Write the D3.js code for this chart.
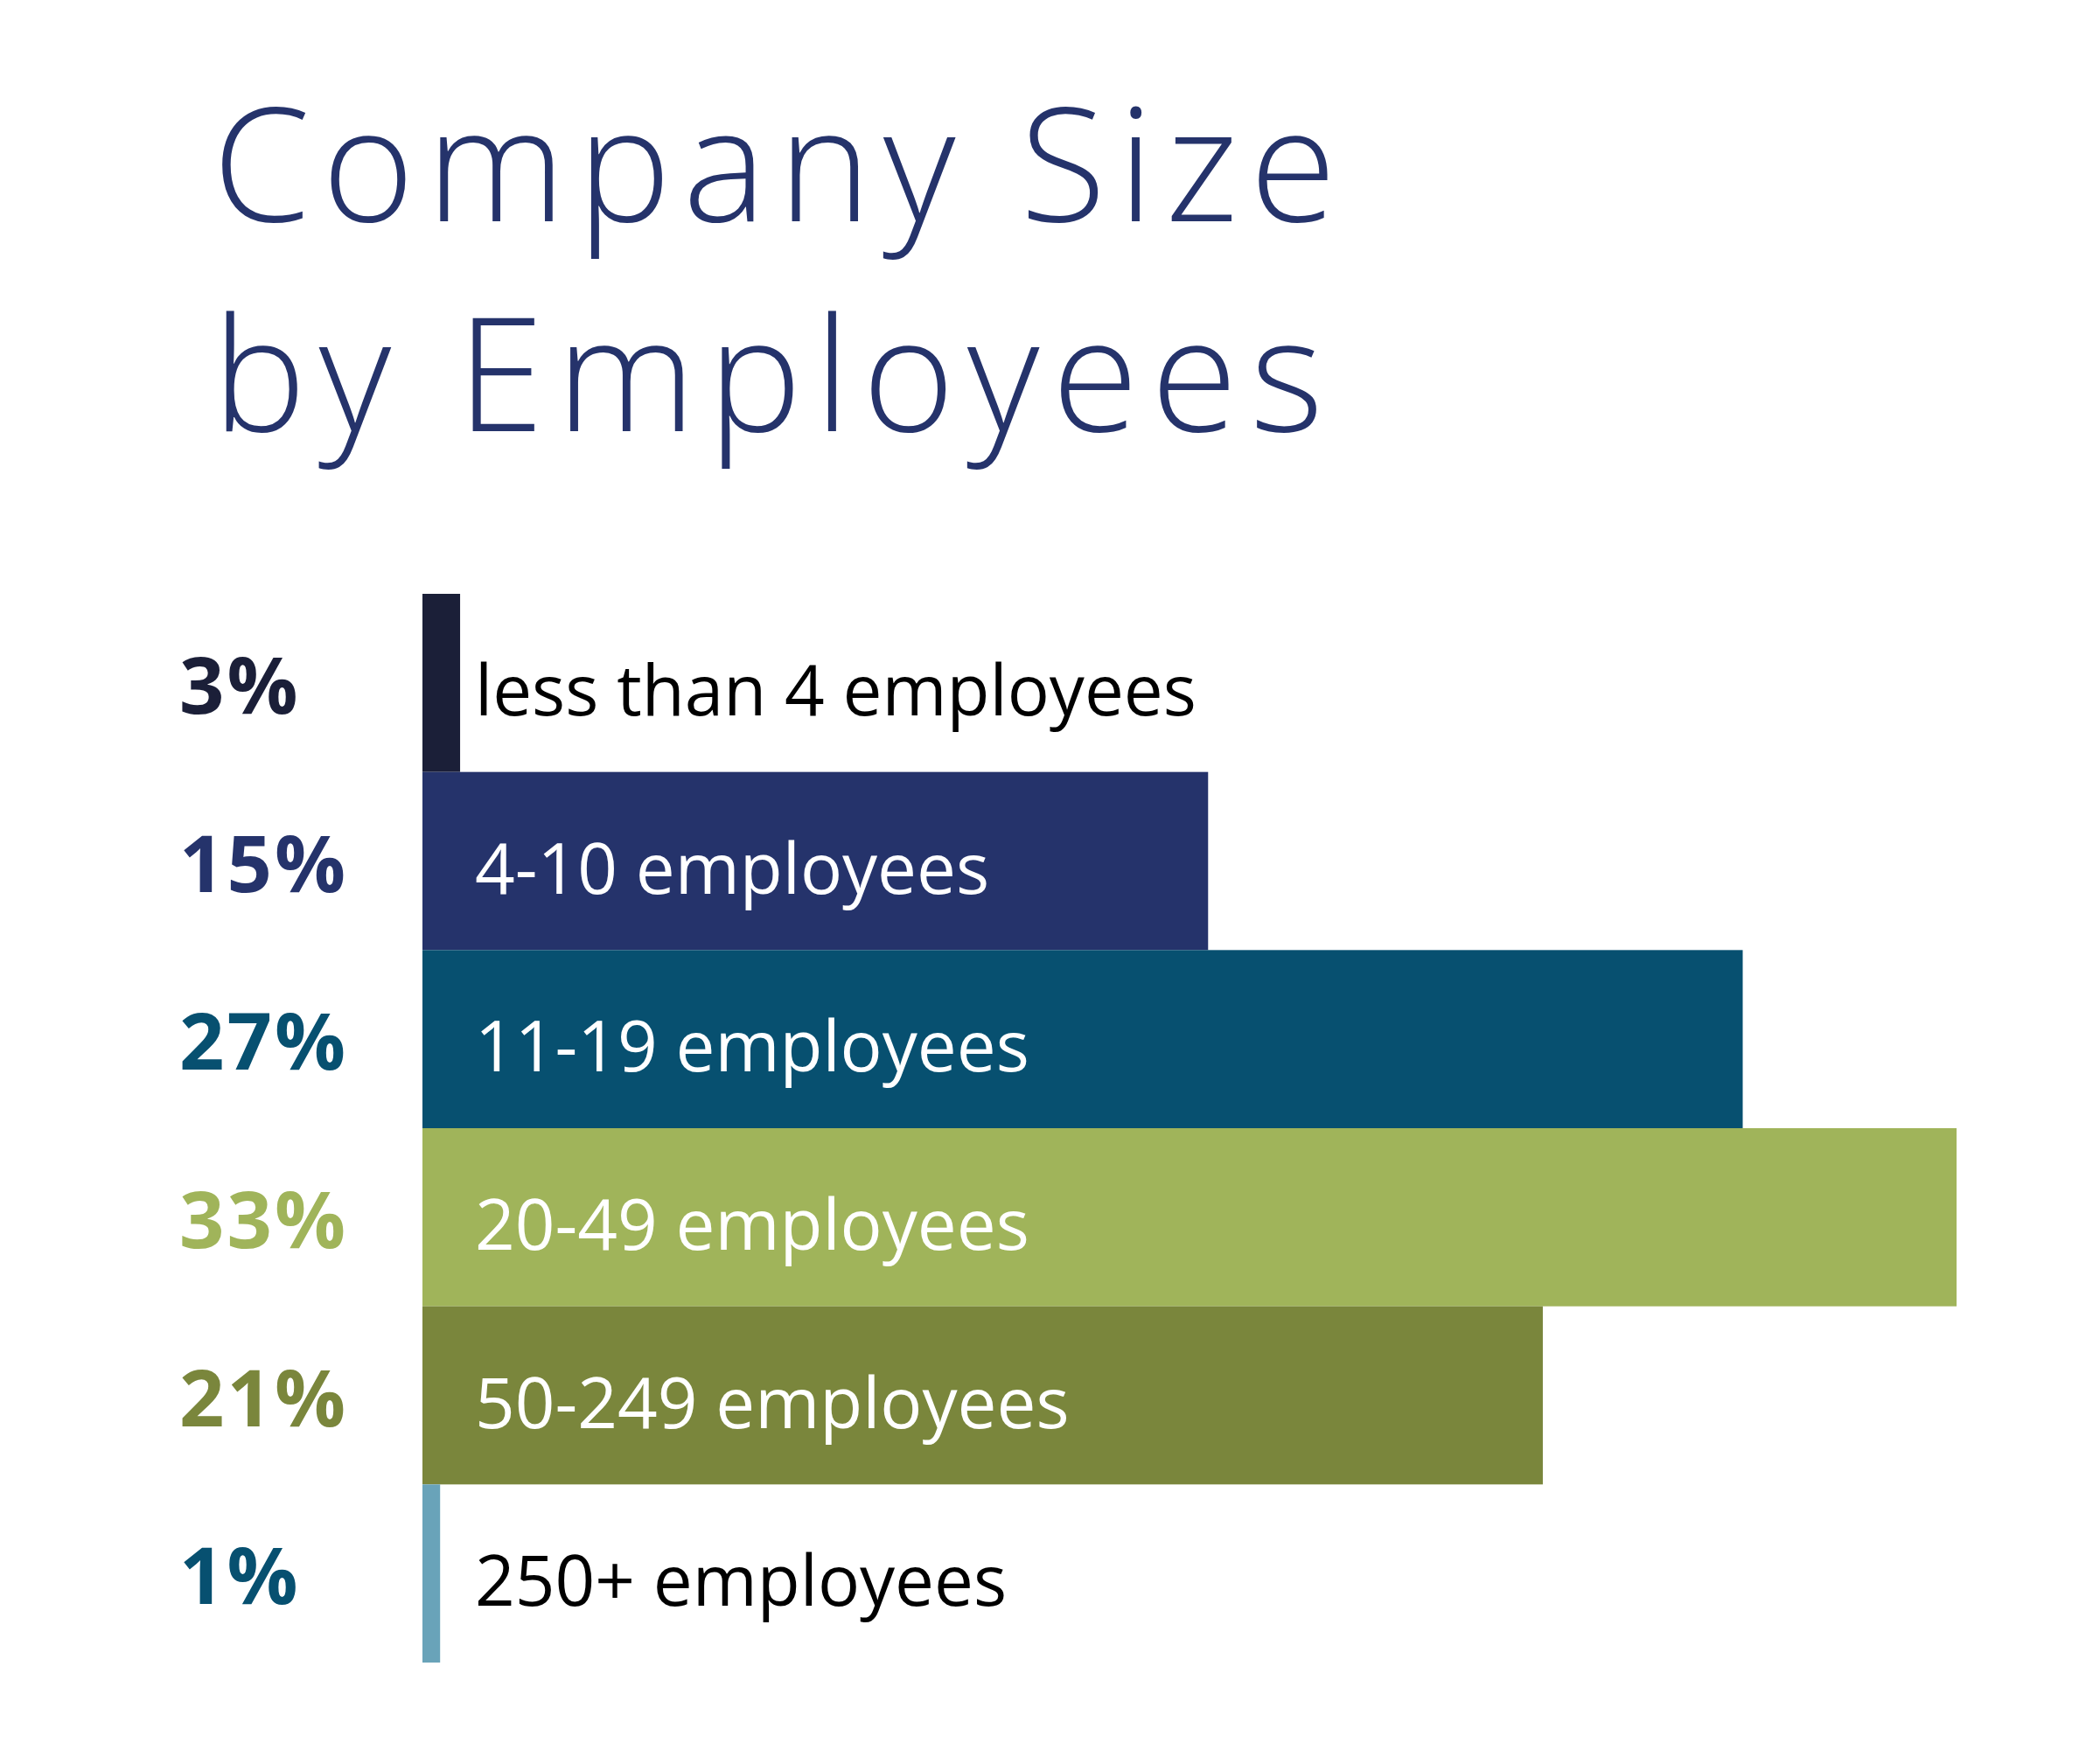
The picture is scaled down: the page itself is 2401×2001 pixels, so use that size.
<!DOCTYPE html>
<html>
<head>
<meta charset="utf-8">
<script src="https://cdn.jsdelivr.net/npm/d3@7"></script>
<style>
  html, body { margin: 0; padding: 0; background: #ffffff; }
  svg { display: block; }
</style>
</head>
<body>
<svg id="chart" width="2401" height="2001"></svg>
<script>
// ---- data ----
const categories = ["less than 4 employees", "4-10 employees", "11-19 employees", "20-49 employees", "50-249 employees", "250+ employees"];
const percentLabels = ["3%", "15%", "27%", "33%", "21%", "1%"];
// bar lengths as drawn in the source graphic (same % units)
const barLengths = [0.81, 16.9, 28.4, 33, 24.1, 0.38];
const barColors = ["#1b1f38", "#25336b", "#075070", "#a0b45a", "#7a863c", "#69a3b9"];
const pctColors = ["#1b1f38", "#25336b", "#075070", "#a0b45a", "#7a863c", "#075070"];
const labelColors = ["#000000", "#ffffff", "#ffffff", "#ffffff", "#ffffff", "#000000"];
const titleLines = ["Company Size", "by Employees"];

// ---- layout ----
const svg = d3.select("#chart");
const x = d3.scaleLinear().domain([0, 33]).range([483, 2237]);
const y = d3.scaleBand().domain(categories).range([679, 1901]).padding(0);

// title
const title = svg.append("g");
title.selectAll("text").data(titleLines).join("text")
  .attr("x", 243)
  .attr("y", (d, i) => i === 0 ? 253 : 493)
  .attr("font-family", "'Open Sans', sans-serif")
  .attr("font-weight", 300)
  .attr("font-size", 180)
  .attr("fill", "#25336b")
  .text(d => d)
  .each(function(d, i) {
    const target = i === 0 ? 1285 : 1270;
    d3.select(this).attr("textLength", target).attr("lengthAdjust", "spacing");
  });

const rows = categories.map((c, i) => ({c, i}));

// bars
svg.append("g").selectAll("rect").data(rows).join("rect")
  .attr("x", x(0))
  .attr("y", d => y(d.c))
  .attr("width", d => x(barLengths[d.i]) - x(0))
  .attr("height", y.bandwidth())
  .attr("fill", d => barColors[d.i]);

// percentage labels
svg.append("g").selectAll("text").data(rows).join("text")
  .attr("x", 205)
  .attr("y", d => y(d.c) + y.bandwidth() / 2 + 35)
  .attr("font-family", "'Open Sans', sans-serif")
  .attr("font-weight", 700)
  .attr("font-size", 90)
  .attr("letter-spacing", 3)
  .attr("fill", d => pctColors[d.i])
  .text(d => percentLabels[d.i]);

// category labels
svg.append("g").selectAll("text").data(rows).join("text")
  .attr("x", 543)
  .attr("y", d => y(d.c) + y.bandwidth() / 2 + 37)
  .attr("font-family", "'Open Sans', sans-serif")
  .attr("font-weight", 400)
  .attr("font-size", 80)
  .attr("fill", d => labelColors[d.i])
  .text(d => d.c);
</script>
</body>
</html>
